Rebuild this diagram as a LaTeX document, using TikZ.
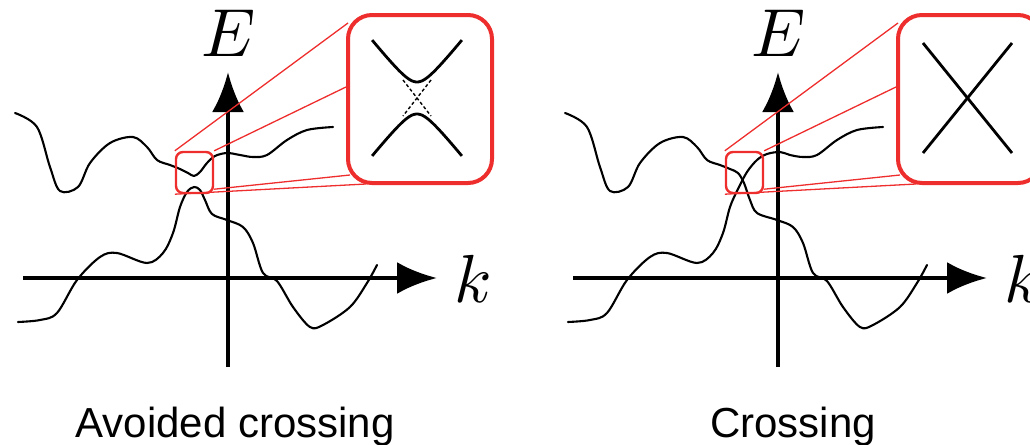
\documentclass[tikz,border=0pt]{standalone}
\usepackage{fontspec}
\setsansfont{Liberation Sans}
\usepackage{unicode-math}
\usetikzlibrary{arrows.meta}

\definecolor{zoomred}{RGB}{238,45,45}

\tikzset{
  axis/.style={line width=2.3pt, -{Latex[length=20pt,width=16pt]}},
  band/.style={line width=1.05pt, line join=round, line cap=round},
  spot/.style={draw=zoomred, line width=1.2pt, rounded corners=3.5pt,
    minimum width=18.5pt, minimum height=20.5pt, inner sep=0pt},
  lens/.style={draw=zoomred, line width=2pt, rounded corners=12pt,
    minimum width=72pt, minimum height=84pt, inner sep=0pt, fill=white},
  ray/.style={draw=zoomred, line width=0.65pt},
  inset/.style={line width=1.4pt},
  asym/.style={line width=0.7pt, dash pattern=on 1.6pt off 1.2pt},
  axlabel/.style={font=\fontsize{34}{40}\selectfont},
  caption/.style={font=\sffamily\fontsize{21}{25}\selectfont, anchor=base},
}

\begin{document}
\begin{tikzpicture}[x=0.5pt, y=-0.5pt]
  \clip (0,0) rectangle (1030,445);

  % Panel izquierdo: cruce evitado
  \begin{scope}
    % Bandas
    \draw[band] plot[smooth, tension=0.55] coordinates {(15,113) (37,127) (50,167) (60,191) (78,187) (90,163) (110,143) (133,137) (147,147) (157,160) (170,165) (180,169) (188,173) (194,176) (200,172) (207,163) (215,156) (227,153) (240,155) (253,157) (267,155) (287,140) (307,130) (333,127)};
    \draw[band] plot[smooth, tension=0.55] coordinates {(18,322) (40,320) (57,313) (77,280) (100,257) (117,253) (147,263) (163,253) (173,233) (180,207) (187,192) (194,187) (200,190) (205,200) (212,214) (227,220) (243,227) (253,243) (263,273) (277,281) (293,307) (310,327) (323,325) (350,307) (367,283) (377,265)};

    % Ejes
    \coordinate (kAfrom) at (23,278);
    \coordinate (kAto) at (437,278);
    \coordinate (EAfrom) at (228,367);
    \coordinate (EAto) at (228,72);
    \draw[axis] (kAfrom) -- (kAto);
    \draw[axis] (EAfrom) -- (EAto);
    \node[axlabel] (EA) at (228,33) {$E$};
    \node[axlabel] (kA) at (473,279) {$k$};

    % Zoom
    \node[spot] (spotA) at (194.5,172.5) {};
    \node[lens] (lensA) at (420,99) {};
    \draw[ray] (spotA.north west) -- ([xshift=1pt,yshift=-5pt]lensA.north west);
    \draw[ray] (spotA.north east) -- ([yshift=6pt]lensA.west);
    \draw[ray] ([yshift=2.5pt]spotA.south east) -- ([xshift=2pt,yshift=5pt]lensA.south west);
    \draw[ray] (spotA.south west) -- ([xshift=10pt,yshift=0.5pt]lensA.south west);
    \draw[inset] plot[domain=-1.96:1.96, samples=40] ({417+12.9*sinh(\x)}, {98-16*cosh(\x)});
    \draw[inset] plot[domain=-1.96:1.96, samples=40] ({417+12.9*sinh(\x)}, {98+16*cosh(\x)});
    \draw[asym] (403,80) -- (431,116);
    \draw[asym] (431,80) -- (403,116);

    \node[caption] (capA) at (235,437) {Avoided crossing};
  \end{scope}

  % Panel derecho: cruce
  \begin{scope}[shift={(550,0)}]
    % Bandas
    \draw[band] plot[smooth, tension=0.55] coordinates {(15,113) (37,127) (50,167) (60,191) (78,187) (90,163) (110,143) (133,137) (147,147) (157,160) (170,165) (180,169) (188,173) (194,183) (200,200) (207,213) (227,220) (243,227) (253,243) (263,273) (277,281) (293,307) (310,327) (323,325) (350,307) (367,283) (377,265)};
    \draw[band] plot[smooth, tension=0.55] coordinates {(18,322) (40,320) (57,313) (77,280) (100,257) (117,253) (147,263) (163,253) (173,233) (180,207) (188,189) (197,172) (207,160) (217,154) (230,152) (240,155) (253,157) (267,155) (287,140) (307,130) (333,127)};

    % Ejes
    \coordinate (kBfrom) at (23,278);
    \coordinate (kBto) at (437,278);
    \coordinate (EBfrom) at (228,367);
    \coordinate (EBto) at (228,72);
    \draw[axis] (kBfrom) -- (kBto);
    \draw[axis] (EBfrom) -- (EBto);
    \node[axlabel] (EB) at (228,33) {$E$};
    \node[axlabel] (kB) at (473,279) {$k$};

    % Zoom
    \node[spot] (spotB) at (194.5,172.5) {};
    \node[lens] (lensB) at (420,99) {};
    \draw[ray] (spotB.north west) -- ([xshift=1pt,yshift=-5pt]lensB.north west);
    \draw[ray] (spotB.north east) -- ([yshift=6pt]lensB.west);
    \draw[ray] ([yshift=2.5pt]spotB.south east) -- ([xshift=2pt,yshift=5pt]lensB.south west);
    \draw[ray] (spotB.south west) -- ([xshift=10pt,yshift=0.5pt]lensB.south west);
    \draw[inset] (373,43) -- (462,153);
    \draw[inset] (462,43) -- (373,153);

    \node[caption] (capB) at (243,437) {Crossing};
  \end{scope}
\end{tikzpicture}
\end{document}
